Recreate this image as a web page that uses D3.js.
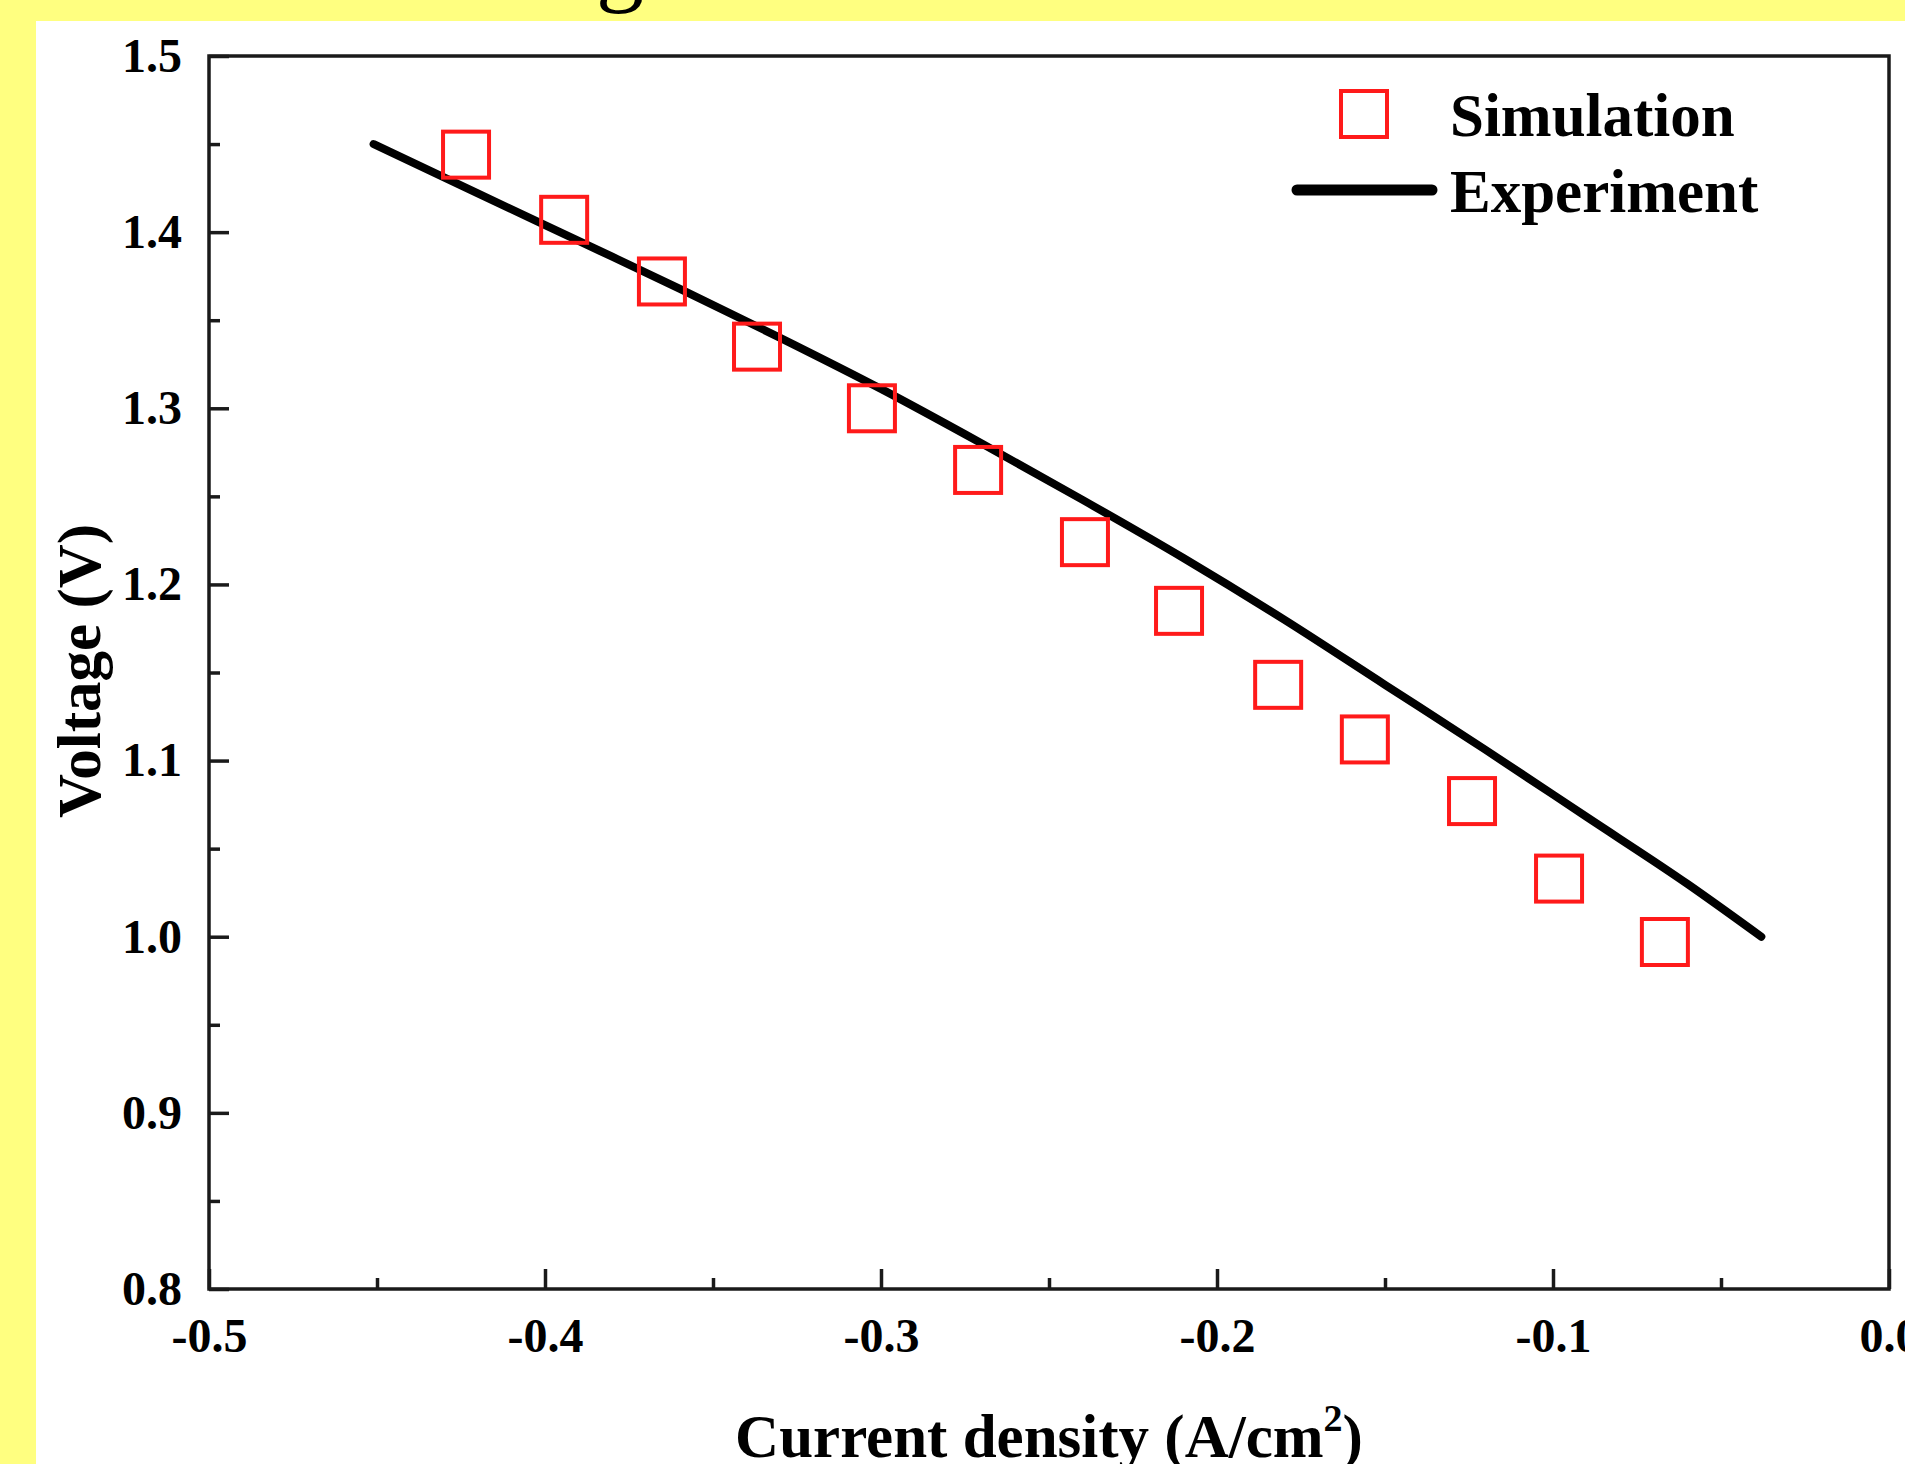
<!DOCTYPE html>
<html>
<head>
<meta charset="utf-8">
<script src="https://cdn.jsdelivr.net/npm/d3@7"></script>
<style>
  body { margin: 0; background: #ffff80; }
  svg { display: block; }
  text { font-family: "Liberation Serif", "Times New Roman", serif; }
</style>
</head>
<body>
<div id="chart"></div>
<script>
// simulated polarisation points (red squares)
var simX = [-0.4235, -0.3943, -0.3652, -0.3369, -0.3027, -0.2711, -0.2393,
            -0.2113, -0.1818, -0.1560, -0.1241, -0.0982, -0.0667];
var simV = [1.444, 1.407, 1.372, 1.335, 1.300, 1.265, 1.224,
            1.185, 1.143, 1.112, 1.077, 1.033, 0.997];

// measured curve (black line)
var expX = [-0.451, -0.42, -0.39, -0.36, -0.33, -0.30, -0.27, -0.24,
            -0.21, -0.18, -0.15, -0.12, -0.09, -0.06, -0.038];
var expV = [1.450, 1.422, 1.395, 1.368, 1.340, 1.311, 1.280, 1.248,
            1.215, 1.180, 1.143, 1.106, 1.068, 1.030, 1.000];

var xTicks = [-0.5, -0.4, -0.3, -0.2, -0.1, 0.0];
var yTicks = [0.8, 0.9, 1.0, 1.1, 1.2, 1.3, 1.4, 1.5];
var xMinor = [-0.45, -0.35, -0.25, -0.15, -0.05];
var yMinor = [0.85, 0.95, 1.05, 1.15, 1.25, 1.35, 1.45];

var seriesNames = ["Simulation", "Experiment"];

// note: "top" is taken by window.top, so the plot box gets its own names
var w = 1905,
    h = 1464,
    plotL = 209, plotR = 1889, plotT = 56, plotB = 1289;

var svg = d3.select("#chart").append("svg")
    .attr("width", w)
    .attr("height", h);

// yellow page with a white panel, and the descender of a caption above it
svg.append("rect").attr("width", w).attr("height", h).attr("fill", "#ffff80");
svg.append("rect")
    .attr("x", 36).attr("y", 21)
    .attr("width", w - 36).attr("height", h - 21)
    .attr("fill", "#fff");
svg.append("text")
    .attr("x", 596).attr("y", -6)
    .style("font-size", "96px")
    .text("g");

var x = d3.scaleLinear().domain([-0.5, 0.0]).range([plotL, plotR]);
var y = d3.scaleLinear().domain([0.8, 1.5]).range([plotB, plotT]);

var fmt = function(d) { return d.toFixed(1); };

// major + minor ticks, pointing inwards
svg.append("g")
    .attr("transform", "translate(0," + plotB + ")")
    .call(d3.axisBottom(x).tickValues(xTicks).tickFormat(fmt)
        .tickSize(-20).tickPadding(29));
svg.append("g")
    .attr("transform", "translate(0," + plotB + ")")
    .call(d3.axisBottom(x).tickValues(xMinor).tickFormat("").tickSize(-11));

svg.append("g")
    .attr("transform", "translate(" + plotL + ",0)")
    .call(d3.axisLeft(y).tickValues(yTicks).tickFormat(fmt)
        .tickSize(-20).tickPadding(27));
svg.append("g")
    .attr("transform", "translate(" + plotL + ",0)")
    .call(d3.axisLeft(y).tickValues(yMinor).tickFormat("").tickSize(-11));

svg.selectAll(".domain").remove();
svg.selectAll(".tick line").attr("stroke", "#1a1a1a").attr("stroke-width", 3.5);
svg.selectAll(".tick text")
    .attr("fill", "#000")
    .style("font-family", "'Liberation Serif', 'Times New Roman', serif")
    .style("font-weight", "bold")
    .style("font-size", "48px");

// plot frame
svg.append("rect")
    .attr("x", plotL).attr("y", plotT)
    .attr("width", plotR - plotL).attr("height", plotB - plotT)
    .attr("fill", "none")
    .attr("stroke", "#1a1a1a")
    .attr("stroke-width", 3.5);

// experiment line
var line = d3.line()
    .x(function(d, i) { return x(expX[i]); })
    .y(function(d, i) { return y(expV[i]); })
    .curve(d3.curveMonotoneX);

svg.append("path")
    .datum(expV)
    .attr("d", line)
    .attr("fill", "none")
    .attr("stroke", "#000")
    .attr("stroke-width", 8)
    .attr("stroke-linecap", "round");

// simulation squares
var s = 46;
svg.selectAll("rect.sim")
    .data(simV)
    .enter().append("rect")
    .attr("class", "sim")
    .attr("x", function(d, i) { return x(simX[i]) - s / 2; })
    .attr("y", function(d) { return y(d) - s / 2; })
    .attr("width", s)
    .attr("height", s)
    .attr("fill", "none")
    .attr("stroke", "#ff1a1a")
    .attr("stroke-width", 4);

// legend
var lg = svg.append("g");
lg.append("rect")
    .attr("x", 1364 - s / 2).attr("y", 114 - s / 2)
    .attr("width", s).attr("height", s)
    .attr("fill", "none").attr("stroke", "#ff1a1a").attr("stroke-width", 4);
lg.append("line")
    .attr("x1", 1297).attr("x2", 1432)
    .attr("y1", 190).attr("y2", 190)
    .attr("stroke", "#000").attr("stroke-width", 11)
    .attr("stroke-linecap", "round");
lg.selectAll("text")
    .data(seriesNames)
    .enter().append("text")
    .attr("x", 1450)
    .attr("y", function(d, i) { return i === 0 ? 136 : 212; })
    .style("font-weight", "bold")
    .style("font-size", "61px")
    .text(function(d) { return d; });

// axis titles
var xt = svg.append("text")
    .attr("x", (plotL + plotR) / 2)
    .attr("y", 1457)
    .attr("text-anchor", "middle")
    .style("font-weight", "bold")
    .style("font-size", "61px");
xt.append("tspan").text("Current density (A/cm");
xt.append("tspan").attr("dy", -26).style("font-size", "38px").text("2");
xt.append("tspan").attr("dy", 26).text(")");

svg.append("text")
    .attr("transform", "translate(100,671) rotate(-90)")
    .attr("text-anchor", "middle")
    .style("font-weight", "bold")
    .style("font-size", "61px")
    .text("Voltage (V)");
</script>
</body>
</html>
